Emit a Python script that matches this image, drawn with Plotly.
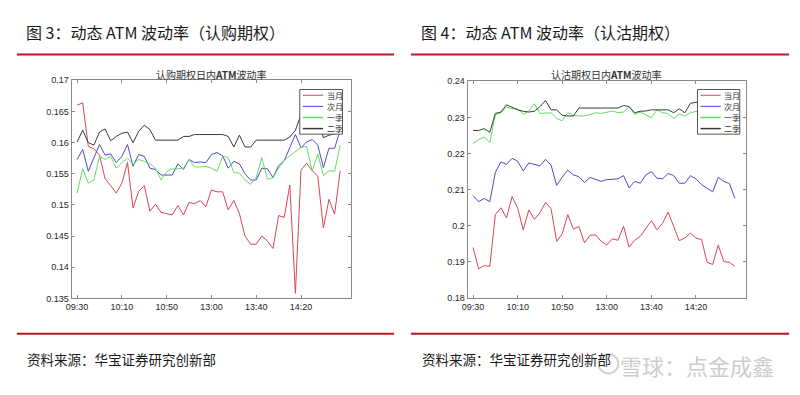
import plotly.graph_objects as go

W, H = 800, 395

# ---------------- data ----------------
tick_idx = [0, 8, 16, 24, 32, 40]
tick_labels = ["09:30", "10:10", "10:50", "13:00", "13:40", "14:20"]
series_names = ["当月", "次月", "一季", "二季"]

call_dangyue = [0.1660, 0.1664, 0.1594, 0.1590, 0.1580, 0.1542, 0.1531, 0.1519, 0.1535, 0.1568,
                0.1495, 0.1522, 0.1531, 0.1490, 0.1501, 0.1488, 0.1486, 0.1484, 0.1499, 0.1484,
                0.1504, 0.1502, 0.1507, 0.1497, 0.1524, 0.1521, 0.1521, 0.1492, 0.1507, 0.1486,
                0.1450, 0.1437, 0.1437, 0.1450, 0.1442, 0.1430, 0.1483, 0.1480, 0.1532, 0.1358,
                0.1556, 0.1567, 0.1555, 0.1546, 0.1463, 0.1509, 0.1485, 0.1555]
call_ciyue = [0.1573, 0.1589, 0.1554, 0.1575, 0.1597, 0.1580, 0.1582, 0.1568, 0.1578, 0.1597,
              0.1562, 0.1581, 0.1578, 0.1559, 0.1557, 0.1548, 0.1548, 0.1548, 0.1566, 0.1557,
              0.1573, 0.1568, 0.1569, 0.1568, 0.1581, 0.1584, 0.1579, 0.1559, 0.1570, 0.1566,
              0.1550, 0.1540, 0.1540, 0.1559, 0.1558, 0.1544, 0.1563, 0.1571, 0.1592, 0.1613,
              0.1592, 0.1601, 0.1605, 0.1596, 0.1560, 0.1591, 0.1591, 0.1620]
call_yiji = [0.1519, 0.1558, 0.1535, 0.1540, 0.1578, 0.1573, 0.1578, 0.1559, 0.1568, 0.1575,
             0.1565, 0.1573, 0.1570, 0.1566, 0.1559, 0.1540, 0.1553, 0.1558, 0.1558, 0.1559,
             0.1573, 0.1561, 0.1561, 0.1562, 0.1559, 0.1554, 0.1578, 0.1576, 0.1552, 0.1551,
             0.1540, 0.1533, 0.1544, 0.1576, 0.1541, 0.1544, 0.1559, 0.1571, 0.1579, 0.1585,
             0.1592, 0.1594, 0.1554, 0.1582, 0.1547, 0.1555, 0.1554, 0.1596]
call_erji = [0.1601, 0.1620, 0.1600, 0.1596, 0.1617, 0.1622, 0.1603, 0.1610, 0.1615, 0.1617,
             0.1600, 0.1618, 0.1628, 0.1621, 0.1604, 0.1604, 0.1604, 0.1604, 0.1604, 0.1610,
             0.1610, 0.1613, 0.1613, 0.1613, 0.1613, 0.1613, 0.1613, 0.1610, 0.1593, 0.1612,
             0.1593, 0.1593, 0.1604, 0.1604, 0.1604, 0.1604, 0.1604, 0.1604, 0.1609, 0.1620,
             0.1645, 0.1655, 0.1650, 0.1640, 0.1608, 0.1612, 0.1614, 0.1625]

put_dangyue = [0.1940, 0.1881, 0.1890, 0.1888, 0.2031, 0.2050, 0.2022, 0.2081, 0.2049, 0.1989,
               0.2044, 0.2018, 0.2036, 0.2065, 0.2047, 0.1957, 0.1978, 0.2031, 0.1991, 0.1998,
               0.1953, 0.1974, 0.1975, 0.1957, 0.1947, 0.1964, 0.1960, 0.1999, 0.1941, 0.1960,
               0.1971, 0.1991, 0.2014, 0.1989, 0.2007, 0.2038, 0.1998, 0.1959, 0.1966, 0.1980,
               0.1966, 0.1962, 0.1899, 0.1893, 0.1947, 0.1901, 0.1899, 0.1888]
put_ciyue = [0.2084, 0.2067, 0.2076, 0.2067, 0.2148, 0.2177, 0.2170, 0.2187, 0.2179, 0.2152,
             0.2174, 0.2170, 0.2166, 0.2184, 0.2168, 0.2112, 0.2135, 0.2154, 0.2141, 0.2136,
             0.2120, 0.2134, 0.2129, 0.2123, 0.2128, 0.2129, 0.2130, 0.2139, 0.2105, 0.2123,
             0.2118, 0.2141, 0.2150, 0.2132, 0.2130, 0.2145, 0.2139, 0.2118, 0.2118, 0.2139,
             0.2130, 0.2114, 0.2103, 0.2094, 0.2134, 0.2123, 0.2117, 0.2076]
put_yiji = [0.2228, 0.2239, 0.2246, 0.2230, 0.2308, 0.2313, 0.2329, 0.2324, 0.2324, 0.2309,
            0.2318, 0.2338, 0.2311, 0.2313, 0.2313, 0.2297, 0.2291, 0.2313, 0.2306, 0.2304,
            0.2304, 0.2308, 0.2313, 0.2311, 0.2314, 0.2318, 0.2313, 0.2315, 0.2329, 0.2308,
            0.2315, 0.2306, 0.2299, 0.2321, 0.2313, 0.2311, 0.2297, 0.2309, 0.2304, 0.2313,
            0.2317, 0.2320, 0.2322, 0.2318, 0.2320, 0.2322, 0.2318, 0.2325]
put_erji = [0.2264, 0.2264, 0.2269, 0.2259, 0.2311, 0.2315, 0.2335, 0.2327, 0.2321, 0.2317,
            0.2315, 0.2317, 0.2330, 0.2347, 0.2321, 0.2321, 0.2306, 0.2304, 0.2304, 0.2326,
            0.2326, 0.2326, 0.2326, 0.2326, 0.2326, 0.2326, 0.2326, 0.2333, 0.2330, 0.2313,
            0.2317, 0.2318, 0.2321, 0.2321, 0.2321, 0.2321, 0.2313, 0.2324, 0.2313, 0.2339,
            0.2342, 0.2342, 0.2340, 0.2338, 0.2340, 0.2341, 0.2339, 0.2342]

call_yticks = [0.135, 0.14, 0.145, 0.15, 0.155, 0.16, 0.165, 0.17]
call_yticklabels = ["0.135", "0.14", "0.145", "0.15", "0.155", "0.16", "0.165", "0.17"]
put_yticks = [0.18, 0.19, 0.20, 0.21, 0.22, 0.23, 0.24]
put_yticklabels = ["0.18", "0.19", "0.2", "0.21", "0.22", "0.23", "0.24"]

# ---------------- style ----------------
colors = ["#d94452", "#4b4bc6", "#62dd62", "#3a3a3a"]
AXC = "#8a8a8a"
RED = "#c0141c"
CJK = "Noto Sans CJK SC"


def px(x):
    return x / W


def py(y):
    return 1 - y / H


fig = go.Figure()
xs = list(range(len(call_dangyue)))
for i, s in enumerate([call_dangyue, call_ciyue, call_yiji, call_erji]):
    fig.add_trace(go.Scatter(x=xs, y=s, mode="lines", name=series_names[i],
                             line=dict(color=colors[i], width=1), xaxis="x", yaxis="y",
                             showlegend=False))
for i, s in enumerate([put_dangyue, put_ciyue, put_yiji, put_erji]):
    fig.add_trace(go.Scatter(x=xs, y=s, mode="lines", name=series_names[i],
                             line=dict(color=colors[i], width=1), xaxis="x2", yaxis="y2",
                             showlegend=False))

axis_common = dict(showline=True, linecolor=AXC, linewidth=1, mirror="ticks",
                   ticks="inside", ticklen=3, tickcolor=AXC, showgrid=False, zeroline=False,
                   tickfont=dict(family="Liberation Sans, Arial", size=9, color="#262626"))

fig.update_layout(
    width=W, height=H, margin=dict(l=0, r=0, t=0, b=0),
    paper_bgcolor="white", plot_bgcolor="white", showlegend=False,
    xaxis=dict(domain=[px(66), px(348)], range=[-1, 49], tickvals=tick_idx,
               ticktext=tick_labels, anchor="y", **axis_common),
    yaxis=dict(domain=[py(301), py(77.3)], range=[0.135, 0.17], tickvals=call_yticks,
               ticktext=call_yticklabels, anchor="x", **axis_common),
    xaxis2=dict(domain=[px(465), px(745.7)], range=[-1, 49], tickvals=tick_idx,
                ticktext=tick_labels, anchor="y2", **axis_common),
    yaxis2=dict(domain=[py(300.7), py(78.3)], range=[0.18, 0.24], tickvals=put_yticks,
                ticktext=put_yticklabels, anchor="x2", **axis_common),
)

shapes = []
annos = []

# header / footer red rules
for x0, x1 in [(11, 391), (408, 789)]:
    shapes.append(dict(type="line", xref="paper", yref="paper", x0=px(x0), x1=px(x1),
                       y0=py(50.7), y1=py(50.7), line=dict(color=RED, width=2)))
    shapes.append(dict(type="line", xref="paper", yref="paper", x0=px(x0), x1=px(x1),
                       y0=py(337.3), y1=py(337.3), line=dict(color=RED, width=2)))

# panel titles
for x0, txt in [(18, "图 3：动态 ATM 波动率（认购期权）"), (416, "图 4：动态 ATM 波动率（认沽期权）")]:
    annos.append(dict(x=px(x0), y=py(28), xref="paper", yref="paper", text=txt,
                      showarrow=False, xanchor="left", yanchor="middle",
                      font=dict(family=CJK, size=16, color="#1a1a1a")))
    annos.append(dict(x=px(x0 + 1), y=py(363.3), xref="paper", yref="paper",
                      text="资料来源：华宝证券研究创新部",
                      showarrow=False, xanchor="left", yanchor="middle",
                      font=dict(family=CJK, size=13.5, color="#1a1a1a")))

# chart titles
for cx, txt in [(207, "认购期权日内<b>ATM</b>波动率"), (605, "认沽期权日内<b>ATM</b>波动率")]:
    annos.append(dict(x=px(cx), y=py(71.5), xref="paper", yref="paper", text=txt,
                      showarrow=False, xanchor="center", yanchor="middle",
                      font=dict(family=CJK, size=10, color="#333333")))

# manual legends
for bx0, bx1 in [(296, 339), (696.7, 739.3)]:
    shapes.append(dict(type="rect", xref="paper", yref="paper", x0=px(bx0), x1=px(bx1),
                       y0=py(132.5), y1=py(86.7), fillcolor="white",
                       line=dict(color="#555555", width=1), layer="above"))
    for i, name in enumerate(series_names):
        yy = 92.6 + i * 11.4
        shapes.append(dict(type="line", xref="paper", yref="paper", x0=px(bx0 + 3),
                           x1=px(bx0 + 23.5), y0=py(yy), y1=py(yy),
                           line=dict(color=colors[i], width=1.5 if i >= 2 else 1),
                           layer="above"))
        annos.append(dict(x=px(bx0 + 25), y=py(yy), xref="paper", yref="paper", text=name,
                          showarrow=False, xanchor="left", yanchor="middle",
                          font=dict(family=CJK, size=8, color="#333333")))

# watermark
shapes.append(dict(type="circle", xref="paper", yref="paper", x0=px(597), x1=px(617),
                   y0=py(378), y1=py(358), line=dict(color="#d2d2d2", width=2)))
annos.append(dict(x=px(617), y=py(369), xref="paper", yref="paper", text="雪球：点金成鑫",
                  showarrow=False, xanchor="left", yanchor="middle",
                  font=dict(family=CJK, size=22, color="#cccccc")))

fig.update_layout(shapes=shapes, annotations=annos)
fig.write_html("out.html", config={"displayModeBar": False},
               post_script="document.body.style.margin='0';document.body.style.overflow='hidden';")
